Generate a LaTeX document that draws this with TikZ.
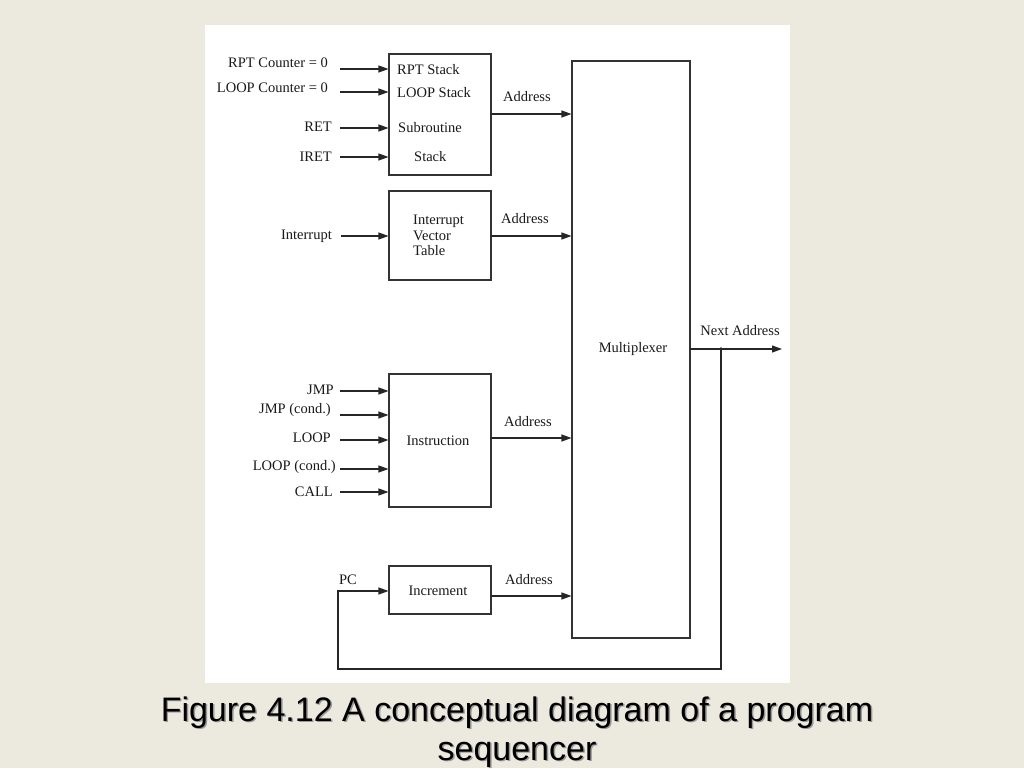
\documentclass[tikz,border=0pt]{standalone}
\usepackage{fontspec}
\setmainfont{Liberation Serif}
\newfontfamily\capfont{Liberation Sans}
\usetikzlibrary{arrows.meta}
\definecolor{slidebg}{HTML}{ECE9DF}
\begin{document}
\begin{tikzpicture}[x=1pt,y=-1pt,
  line/.style={draw=black!85, line width=1.1pt},
  arr/.style={line, -{Triangle[length=10pt,width=7pt]}},
  blk/.style={draw=black!80, line width=1.1pt, fill=white, inner sep=0pt},
  lbl/.style={font=\fontsize{14.5}{15.5}\selectfont, inner sep=0pt, text=black!90},
  captxt/.style={font=\capfont\fontsize{34}{39}\selectfont, inner sep=0pt, anchor=base},
]
\useasboundingbox (0,0) rectangle (1024,768);
\fill[slidebg] (0,0) rectangle (1024,768);
\fill[white] (205,25) rectangle (790,683);

% blocks
\node[blk, minimum width=102pt, minimum height=121pt] (stack) at (440,114.5) {};
\node[blk, minimum width=102pt, minimum height=89pt] (ivt) at (440,235.5) {};
\node[blk, minimum width=118pt, minimum height=577pt] (mux) at (631,349.5) {};
\node[blk, minimum width=102pt, minimum height=133pt] (instr) at (440,440.5) {};
\node[blk, minimum width=102pt, minimum height=48pt] (incr) at (440,590) {};

% block texts
\node[lbl, anchor=west] (t1) at (397,70) {RPT Stack};
\node[lbl, anchor=west] (t2) at (397,93) {LOOP Stack};
\node[lbl, anchor=west] (t3) at (398,128) {Subroutine};
\node[lbl, anchor=west] (t4) at (414,157) {Stack};
\node[lbl, anchor=west, align=left] (t5) at (413,235.5) {Interrupt\\Vector\\Table};
\node[lbl] (t6) at (633,349) {Multiplexer};
\node[lbl] (t7) at (438,441) {Instruction};
\node[lbl] (t8) at (438,591) {Increment};

% input labels
\node[lbl, anchor=east] (rpt) at (328,63) {RPT Counter = 0};
\node[lbl, anchor=east] (loopc) at (328,88) {LOOP Counter = 0};
\node[lbl, anchor=east] (ret) at (332,127) {RET};
\node[lbl, anchor=east] (iret) at (332,157) {IRET};
\node[lbl, anchor=east] (intr) at (332,236) {Interrupt};
\node[lbl, anchor=east] (jmp) at (334,390) {JMP};
\node[lbl, anchor=east] (jmpc) at (331,410) {JMP (cond.)};
\node[lbl, anchor=east] (loop) at (331,438) {LOOP};
\node[lbl, anchor=east] (loopcd) at (336,467) {LOOP (cond.)};
\node[lbl, anchor=east] (call) at (333,492) {CALL};
\node[lbl] (pc) at (348,580) {PC};

% input coordinates
\coordinate (i1) at (340,69);
\coordinate (i2) at (340,92);
\coordinate (i3) at (340,128);
\coordinate (i4) at (340,157);
\coordinate (i5) at (341,236);
\coordinate (j1) at (340,391);
\coordinate (j2) at (340,415);
\coordinate (j3) at (340,440);
\coordinate (j4) at (340,469);
\coordinate (j5) at (340,492);

\draw[arr] (i1) -- (stack.west |- i1);
\draw[arr] (i2) -- (stack.west |- i2);
\draw[arr] (i3) -- (stack.west |- i3);
\draw[arr] (i4) -- (stack.west |- i4);
\draw[arr] (i5) -- (ivt.west |- i5);
\draw[arr] (j1) -- (instr.west |- j1);
\draw[arr] (j2) -- (instr.west |- j2);
\draw[arr] (j3) -- (instr.west |- j3);
\draw[arr] (j4) -- (instr.west |- j4);
\draw[arr] (j5) -- (instr.west |- j5);

% outputs to multiplexer
\coordinate (o1) at (491,114);
\coordinate (o2) at (491,236);
\coordinate (o3) at (491,438);
\coordinate (o4) at (491,596);
\draw[arr] (o1) -- (mux.west |- o1);
\draw[arr] (o2) -- (mux.west |- o2);
\draw[arr] (o3) -- (mux.west |- o3);
\draw[arr] (o4) -- (mux.west |- o4);
\node[lbl] (a1) at (527,97) {Address};
\node[lbl] (a2) at (525,219) {Address};
\node[lbl] (a3) at (528,422) {Address};
\node[lbl] (a4) at (529,580) {Address};

% next address and feedback
\coordinate (mo) at (690,349);
\coordinate (nx) at (782,349);
\coordinate (jn) at (721,349);
\draw[arr] (mo) -- (nx);
\node[lbl] (na) at (740,331) {Next Address};
\fill[black!85] (jn) circle (1.8pt);
\draw[arr] (jn) -- (721,669) -- (338,669) -- (338,591) -- (incr.west |- 0,591);

% caption
\node[captxt, text=black!40] at (518.5,722.5) {Figure 4.12 A conceptual diagram of a program};
\node[captxt] (c1) at (517,721) {Figure 4.12 A conceptual diagram of a program};
\node[captxt, text=black!40] at (518.5,761.5) {sequencer};
\node[captxt] (c2) at (517,760) {sequencer};
\end{tikzpicture}
\end{document}
